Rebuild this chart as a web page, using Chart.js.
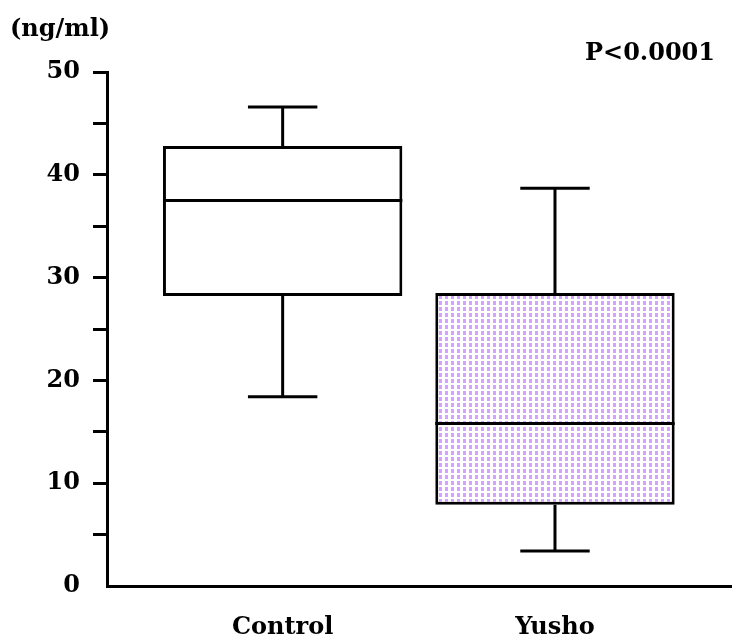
<!DOCTYPE html>
<html>
<head>
<meta charset="utf-8">
<script src="https://cdn.jsdelivr.net/npm/chart.js@4/dist/chart.umd.min.js"></script>
<style>
  html, body { margin: 0; padding: 0; background: #fff; }
  #c { display: block; }
</style>
</head>
<body>
<canvas id="c" width="732" height="639"></canvas>
<script>
// ---- data ----
const categories = ['Control', 'Yusho'];
const minValues    = [18.4, 3.4];
const q1Values     = [28.2, 7.9];
const medianValues = [37.5, 15.8];
const q3Values     = [42.8, 28.5];
const maxValues    = [46.6, 38.7];
const yTickLabels  = [0, 10, 20, 30, 40, 50];
const unitLabel = '(ng/ml)';
const pValueLabel = 'P<0.0001';

// ---- styles ----
const FONT = '"DejaVu Serif", "Liberation Serif", serif';
const INK = '#000';

function dotPattern() {
  const t = document.createElement('canvas');
  t.width = 6; t.height = 6;
  const g = t.getContext('2d');
  g.fillStyle = '#fff';
  g.fillRect(0, 0, 6, 6);
  g.fillStyle = '#d5a3ff';
  g.fillRect(1, 1, 3, 4);
  return document.getElementById('c').getContext('2d').createPattern(t, 'repeat');
}
const fills = ['#ffffff', dotPattern()];

const boxData = categories.map((c, i) => ({ x: i, y: [q1Values[i], q3Values[i]] }));

const whiskerPlugin = {
  id: 'whiskers',
  afterDatasetsDraw(chart) {
    const ctx = chart.ctx;
    const xs = chart.scales.x, ys = chart.scales.y;
    const meta = chart.getDatasetMeta(0);
    ctx.save();
    ctx.strokeStyle = INK;
    ctx.lineWidth = 3;
    ctx.lineCap = 'butt';
    categories.forEach((c, i) => {
      const bar = meta.data[i];
      const cx = xs.getPixelForValue(i);
      const half = bar.width / 2;
      const capHalf = bar.width * 0.145;
      const yMed = ys.getPixelForValue(medianValues[i]);
      const yQ1 = ys.getPixelForValue(q1Values[i]);
      const yQ3 = ys.getPixelForValue(q3Values[i]);
      const yMin = ys.getPixelForValue(minValues[i]);
      const yMax = ys.getPixelForValue(maxValues[i]);
      ctx.beginPath();
      ctx.moveTo(cx - half, yMed); ctx.lineTo(cx + half, yMed);
      ctx.moveTo(cx, yQ3); ctx.lineTo(cx, yMax);
      ctx.moveTo(cx - capHalf, yMax); ctx.lineTo(cx + capHalf, yMax);
      ctx.moveTo(cx, yQ1); ctx.lineTo(cx, yMin);
      ctx.moveTo(cx - capHalf, yMin); ctx.lineTo(cx + capHalf, yMin);
      ctx.stroke();
    });
    ctx.restore();
  }
};

const textPlugin = {
  id: 'cornerTexts',
  afterDraw(chart) {
    const ctx = chart.ctx;
    const a = chart.chartArea;
    ctx.save();
    ctx.fillStyle = INK;
    ctx.font = 'bold 24px ' + FONT;
    ctx.textBaseline = 'middle';
    ctx.textAlign = 'left';
    ctx.fillText(unitLabel, 10, a.top - 42);
    ctx.textAlign = 'right';
    ctx.fillText(pValueLabel, a.right - 17, a.top - 18);
    ctx.restore();
  }
};

new Chart(document.getElementById('c'), {
  type: 'bar',
  data: {
    datasets: [{
      data: boxData,
      backgroundColor: fills,
      borderColor: INK,
      borderWidth: 3,
      borderSkipped: false,
      categoryPercentage: 1,
      barPercentage: 0.879
    }]
  },
  options: {
    responsive: false,
    animation: false,
    layout: { padding: { top: 72, left: 0, right: 0, bottom: 0 } },
    plugins: {
      legend: { display: false },
      tooltip: { enabled: false }
    },
    scales: {
      x: {
        type: 'linear',
        offset: false,
        min: -0.645,
        max: 1.65,
        afterBuildTicks(scale) {
          scale.ticks = categories.map((c, i) => ({ value: i }));
        },
        afterFit(scale) { scale.height = 53; },
        grid: { display: false, drawTicks: false, offset: false },
        border: { display: true, color: INK, width: 3 },
        ticks: {
          color: INK,
          padding: 27,
          font: { family: FONT, size: 24, weight: 'bold' },
          callback: (v) => categories[Math.round(v)]
        }
      },
      y: {
        min: 0,
        max: 50,
        afterBuildTicks(scale) {
          const t = [];
          for (let k = 0; k < yTickLabels.length; k++) {
            t.push({ value: yTickLabels[k] });
            if (k < yTickLabels.length - 1) t.push({ value: (yTickLabels[k] + yTickLabels[k + 1]) / 2 });
          }
          scale.ticks = t;
        },
        afterFit(scale) { scale.width = 107; },
        grid: {
          drawOnChartArea: false,
          drawTicks: true,
          tickLength: 14,
          tickWidth: 3,
          color: (c) => (c.tick && c.tick.value === 0) ? 'rgba(0,0,0,0)' : INK
        },
        border: { display: true, color: INK, width: 3 },
        ticks: {
          color: INK,
          padding: 13,
          font: { family: FONT, size: 24, weight: 'bold' },
          callback: (v) => yTickLabels.includes(v) ? String(v) : ''
        }
      }
    }
  },
  plugins: [whiskerPlugin, textPlugin]
});
</script>
</body>
</html>
